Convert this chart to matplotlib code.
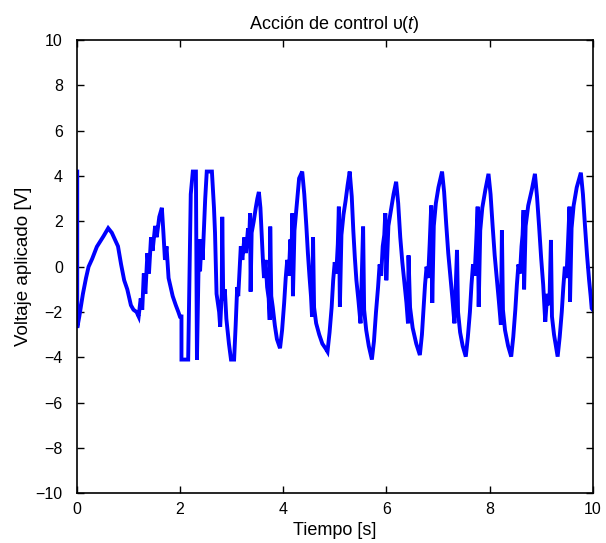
import matplotlib
matplotlib.use("Agg")
import matplotlib.pyplot as plt
import numpy as np

plt.rcParams["font.family"] = ["Liberation Sans", "DejaVu Sans"]
plt.rcParams["mathtext.fontset"] = "custom"
plt.rcParams["mathtext.rm"] = "Liberation Sans"
plt.rcParams["mathtext.it"] = "Liberation Sans:italic"

# ------------------------------------------------------------
# Data (time in s, voltage in V)
# ------------------------------------------------------------
# start-up / saturation transient, 0 .. 3 s
t_start = [0.01, 0.01, 0.05, 0.12, 0.18, 0.23, 0.30, 0.39, 0.45, 0.52,
           0.61, 0.68, 0.74, 0.80, 0.86, 0.92, 0.98, 1.05, 1.10, 1.16,
           1.20, 1.24, 1.27, 1.30, 1.33, 1.37, 1.40, 1.44, 1.47, 1.52,
           1.55, 1.60, 1.65, 1.68, 1.71, 1.74, 1.78, 1.82, 1.86, 1.92,
           1.97, 2.00, 2.03, 2.03, 2.16, 2.21, 2.25, 2.31, 2.33, 2.37,
           2.39, 2.42, 2.44, 2.49, 2.52, 2.62, 2.66, 2.68, 2.71, 2.76,
           2.78, 2.81, 2.82, 2.84, 2.87, 2.90, 2.95, 2.99, 3.05]
v_start = [4.20, -2.70, -2.20, -1.20, -0.50, 0.00, 0.35, 0.88, 1.10, 1.35,
           1.70, 1.50, 1.20, 0.90, 0.10, -0.60, -1.00, -1.70, -1.90, -2.00,
           -2.20, -1.40, -1.90, -0.30, -1.20, 0.60, -0.30, 1.30, 0.70, 1.80,
           1.30, 2.20, 2.60, 1.50, 0.30, 0.90, -0.50, -0.90, -1.30, -1.70,
           -2.00, -2.20, -2.20, -4.10, -4.10, 3.20, 4.20, 4.20, -4.10, 1.20,
           -0.20, 1.20, 0.30, 3.00, 4.20, 4.20, 2.60, 1.50, -1.20, -2.00,
           -2.65, -1.20, 2.20, -1.50, -1.00, -2.30, -3.40, -4.10, -4.10]

# oscillating regime, 3 .. 10 s
t_osc = [3.08, 3.11, 3.13, 3.18, 3.21, 3.25, 3.28, 3.32, 3.34, 3.36,
         3.37, 3.39, 3.43, 3.47, 3.50, 3.53, 3.56, 3.59, 3.61, 3.63,
         3.66, 3.69, 3.72, 3.74, 3.75, 3.77, 3.80, 3.84, 3.88, 3.94,
         3.98, 4.02, 4.05, 4.08, 4.11, 4.14, 4.16, 4.18, 4.19, 4.22,
         4.26, 4.31, 4.37, 4.41, 4.45, 4.48, 4.51, 4.54, 4.56, 4.58,
         4.60, 4.64, 4.70, 4.76, 4.82, 4.86, 4.90, 4.94, 4.97, 5.00,
         5.03, 5.06, 5.08, 5.10, 5.13, 5.17, 5.21, 5.25, 5.29, 5.33,
         5.36, 5.39, 5.42, 5.46, 5.50, 5.55, 5.57, 5.61, 5.66, 5.72,
         5.76, 5.80, 5.84, 5.87, 5.90, 5.93, 5.96, 5.98, 6.00, 6.04,
         6.09, 6.14, 6.19, 6.23, 6.27, 6.31, 6.35, 6.39, 6.42, 6.43,
         6.46, 6.51, 6.58, 6.65, 6.69, 6.72, 6.75, 6.78, 6.81, 6.84,
         6.87, 6.89, 6.92, 6.96, 7.01, 7.08, 7.12, 7.16, 7.20, 7.24,
         7.28, 7.32, 7.37, 7.39, 7.43, 7.48, 7.54, 7.58, 7.62, 7.65,
         7.68, 7.71, 7.74, 7.77, 7.79, 7.82, 7.86, 7.92, 7.98, 8.02,
         8.06, 8.10, 8.14, 8.18, 8.22, 8.24, 8.26, 8.30, 8.36, 8.42,
         8.46, 8.50, 8.53, 8.56, 8.59, 8.62, 8.64, 8.66, 8.67, 8.70,
         8.75, 8.82, 8.88, 8.92, 8.96, 9.00, 9.04, 9.08, 9.12, 9.16,
         9.19, 9.21, 9.25, 9.32, 9.36, 9.40, 9.43, 9.46, 9.49, 9.52,
         9.55, 9.56, 9.59, 9.63, 9.69, 9.77, 9.81, 9.85, 9.89, 9.93,
         9.96, 9.98, 10.00]
v_osc = [-2.60, -0.90, -1.30, 0.90, 0.30, 1.30, 0.60, 1.70, 1.10, 2.36,
         -1.10, 1.50, 2.00, 2.60, 3.00, 3.30, 2.60, 1.20, 0.20, -0.50,
         0.30, -0.90, -1.40, -2.35, 1.77, -1.30, -1.80, -2.60, -3.20, -3.60,
         -2.80, -1.60, -0.50, 0.30, -0.40, 1.20, 0.40, 2.36, -1.30, 1.60,
         2.60, 3.90, 4.20, 3.20, 1.80, 0.60, -0.40, -1.30, -2.20, 1.30,
         -1.80, -2.50, -3.00, -3.40, -3.60, -3.75, -2.90, -1.80, -0.60, 0.20,
         -0.30, 1.00, 2.65, -1.77, 1.40, 2.30, 2.90, 3.60, 4.20, 3.10,
         1.60, 0.40, -0.60, -1.50, -2.50, 1.77, -1.90, -2.80, -3.50, -4.10,
         -3.30, -2.00, -0.90, 0.10, -0.40, 0.90, 1.40, 2.36, -0.60, 1.80,
         2.50, 3.20, 3.75, 2.80, 1.30, 0.20, -0.70, -1.60, -2.50, 0.50,
         -1.80, -2.70, -3.40, -3.90, -3.00, -1.90, -0.80, 0.00, -0.50, 1.00,
         2.70, -1.60, 1.80, 2.80, 3.50, 4.20, 3.30, 1.90, 0.60, -0.40,
         -1.40, -2.50, 0.74, -2.00, -2.90, -3.50, -3.97, -3.10, -2.00, -0.80,
         0.10, -0.40, 1.00, 2.65, -1.77, 1.60, 2.60, 3.40, 4.10, 3.20,
         1.80, 0.50, -0.50, -1.50, -2.57, 1.60, -1.90, -2.80, -3.50, -3.97,
         -3.10, -1.90, -0.80, 0.10, -0.30, 0.90, 1.40, 2.50, -1.00, 1.80,
         2.70, 3.40, 4.10, 3.10, 1.80, 0.40, -0.80, -2.43, -1.20, -1.70,
         1.18, -2.20, -3.00, -3.97, -3.10, -2.00, -0.90, 0.00, -0.50, 1.00,
         2.65, -1.55, 1.70, 2.70, 3.50, 4.15, 3.20, 1.80, 0.50, -0.60,
         -1.30, -1.84, -1.90]

t_all = np.array(t_start + t_osc)
v_all = np.array(v_start + v_osc)

x_ticks = [0, 2, 4, 6, 8, 10]
y_ticks = [-10, -8, -6, -4, -2, 0, 2, 4, 6, 8, 10]

fig = plt.figure(figsize=(6.06, 5.43), dpi=100)
ax = fig.add_axes([0.1266, 0.0917, 0.8515, 0.8343])

ax.plot(t_all, v_all, color="#0000ff", linewidth=2.8, solid_joinstyle="miter")

ax.set_xlim(0, 10)
ax.set_ylim(-10, 10)
ax.set_xticks(x_ticks)
ax.set_yticks(y_ticks)
ax.set_xticklabels([str(x) for x in x_ticks])
ax.set_yticklabels([str(y).replace("-", "\u2212") for y in y_ticks])
ax.tick_params(direction="in", length=5, width=1, top=True, right=True,
               labelsize=11.5, colors="black")
ax.tick_params(axis="y", pad=10)
ax.tick_params(axis="x", pad=6)
for side in ax.spines.values():
    side.set_linewidth(1.2)

ax.set_title("Acción de control \u03c5($t$)", fontsize=13, pad=8)
ax.set_xlabel("Tiempo [s]", fontsize=13, labelpad=4)
ax.set_ylabel("Voltaje aplicado [V]", fontsize=13.5, labelpad=3)

fig.savefig("out.png", dpi=100)
